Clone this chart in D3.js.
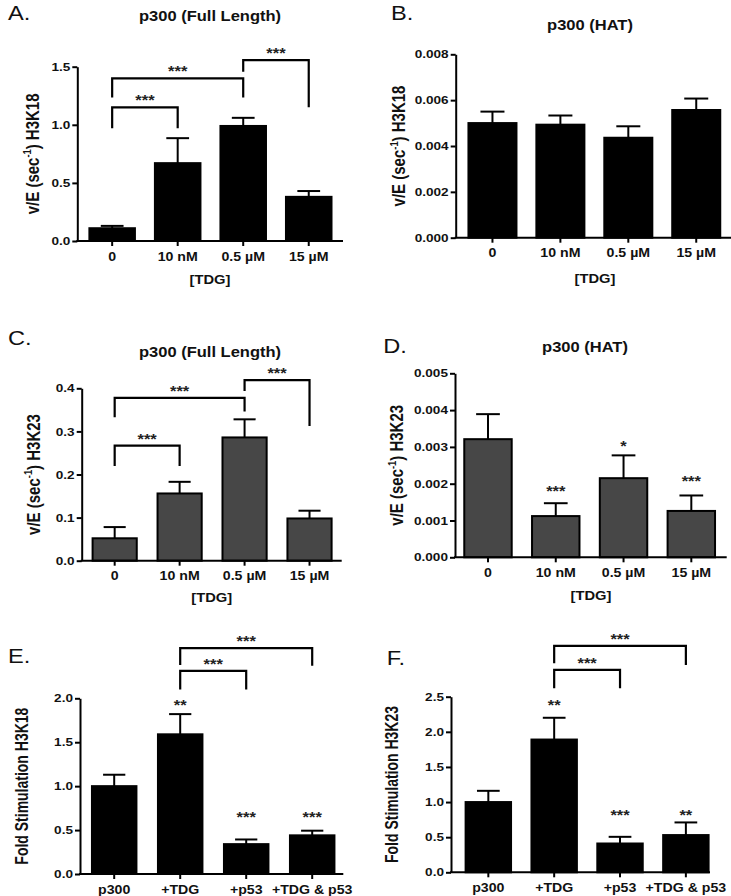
<!DOCTYPE html>
<html><head><meta charset="utf-8">
<script src="https://cdn.jsdelivr.net/npm/d3@7"></script>
<style>body{margin:0;background:#fff} svg{display:block} text{font-family:"Liberation Sans",Arial,Helvetica,sans-serif}</style>
</head><body><svg id="c" width="731" height="896"></svg>
<script>
// ---------- DATA ----------
const tdgCategories = ["0", "10 nM", "0.5 µM", "15 µM"];
const stimCategories = ["p300", "+TDG", "+p53", "+TDG & p53"];

// A: p300 (Full Length) H3K18
const aMeans = [0.11, 0.67, 0.99, 0.38];
const aErrors = [0.02, 0.215, 0.07, 0.05];
const aTicks = [0, 0.5, 1.0, 1.5];
const aBrackets = [[0, 1, 1.15, 0.97, 0.97], [0, 2, 1.40, 1.235, 1.235], [2, 3, 1.556, 1.456, 1.15]];
const aBracketLabels = ["***", "***", "***"];

// B: p300 (HAT) H3K18
const bMeans = [0.0050, 0.00493, 0.00436, 0.00557];
const bErrors = [0.0005, 0.0004, 0.0005, 0.0005];
const bTicks = [0, 0.002, 0.004, 0.006, 0.008];

// C: p300 (Full Length) H3K23
const cMeans = [0.052, 0.156, 0.286, 0.098];
const cErrors = [0.026, 0.027, 0.042, 0.018];
const cTicks = [0, 0.1, 0.2, 0.3, 0.4];
const cBrackets = [[0, 1, 0.267, 0.22, 0.22], [0, 2, 0.378, 0.333, 0.346], [2, 3, 0.419, 0.394, 0.3125]];
const cBracketLabels = ["***", "***", "***"];

// D: p300 (HAT) H3K23
const dMeans = [0.00321, 0.00112, 0.00215, 0.00126];
const dErrors = [0.00068, 0.00035, 0.00062, 0.00042];
const dTicks = [0, 0.001, 0.002, 0.003, 0.004, 0.005];
const dSigLabels = ["", "***", "*", "***"];
const dSigLevels = [null, 0.00188, 0.0031, 0.00215];

// E: Fold stimulation H3K18
const eMeans = [1.0, 1.59, 0.34, 0.44];
const eErrors = [0.13, 0.23, 0.053, 0.053];
const eTicks = [0, 0.5, 1.0, 1.5, 2.0];
const eBrackets = [[1, 2, 2.312, 2.10, 2.10], [1, 3, 2.571, 2.38, 2.37]];
const eBracketLabels = ["***", "***"];
const eSigLabels = ["", "**", "***", "***"];
const eSigLevels = [null, 1.96, 0.69, 0.69];

// F: Fold stimulation H3K23
const fMeans = [1.0, 1.89, 0.41, 0.53];
const fErrors = [0.16, 0.31, 0.095, 0.18];
const fTicks = [0, 0.5, 1.0, 1.5, 2.0, 2.5];
const fBrackets = [[1, 2, 2.882, 2.621, 2.621], [1, 3, 3.224, 2.977, 2.953]];
const fBracketLabels = ["***", "***"];
const fSigLabels = ["", "**", "***", "**"];
const fSigLevels = [null, 2.43, 0.863, 0.863];

// ---------- DRAWING ----------
const svg = d3.select("#c");
const SX = 1.18;          // horizontal stretch of the original figure's lettering
const STAR_FS = 14;

function stars(g, x, cy, label) {
  g.append("text").attr("transform", `translate(${x},${cy + 0.58 * STAR_FS}) scale(${SX},1)`)
    .attr("text-anchor", "middle").attr("font-size", STAR_FS).attr("font-weight", "bold")
    .attr("fill", "#222").text(label);
}

function drawPanel(p) {
  const g = svg.append("g");
  const x = d3.scaleBand().domain(p.categories).range(p.range)
    .paddingInner(p.pad).paddingOuter(p.pad / 2);
  const y = d3.scaleLinear().domain([0, p.max]).range([p.yBottom, p.yTop]);
  const cx = i => x(p.categories[i]) + x.bandwidth() / 2;

  // bars
  g.selectAll("rect.bar").data(p.means).join("rect").attr("class", "bar")
    .attr("x", (d, i) => x(p.categories[i])).attr("width", x.bandwidth())
    .attr("y", d => y(d)).attr("height", d => y(0) - y(d))
    .attr("fill", p.fill).attr("stroke", "#000").attr("stroke-width", 2);

  // error bars
  const eb = g.selectAll("g.eb").data(p.means).join("g").attr("class", "eb");
  eb.append("line").attr("x1", (d, i) => cx(i)).attr("x2", (d, i) => cx(i))
    .attr("y1", d => y(d)).attr("y2", (d, i) => y(d + p.errors[i]))
    .attr("stroke", "#000").attr("stroke-width", 2);
  eb.append("line").attr("x1", (d, i) => cx(i) - x.bandwidth() / 4).attr("x2", (d, i) => cx(i) + x.bandwidth() / 4)
    .attr("y1", (d, i) => y(d + p.errors[i])).attr("y2", (d, i) => y(d + p.errors[i]))
    .attr("stroke", "#000").attr("stroke-width", 2);

  // y axis
  const ya = g.append("g").attr("transform", `translate(${p.x0},0)`)
    .call(d3.axisLeft(y).tickValues(p.ticks).tickFormat(d3.format(p.fmt)).tickSize(5).tickSizeOuter(0).tickPadding(1));
  ya.selectAll("path,line").attr("stroke", "#000").attr("stroke-width", 2);
  ya.selectAll("text").attr("font-size", 11.5).attr("font-weight", "bold").attr("fill", "#111")
    .attr("font-family", '"Liberation Sans",Arial,sans-serif').attr("transform", `scale(${SX},1)`);

  // x axis
  const xa = g.append("g").attr("transform", `translate(0,${p.yBottom})`)
    .call(d3.axisBottom(x).tickSize(5).tickSizeOuter(0).tickPadding(6));
  xa.select(".domain").remove();
  xa.selectAll("line").attr("stroke", "#000").attr("stroke-width", 2);
  xa.selectAll("text").attr("font-size", 12).attr("font-weight", "bold").attr("fill", "#111")
    .attr("font-family", '"Liberation Sans",Arial,sans-serif').attr("transform", `scale(${SX},1)`);
  g.append("line").attr("x1", p.x0 - 1).attr("x2", p.xEnd).attr("y1", p.yBottom).attr("y2", p.yBottom)
    .attr("stroke", "#000").attr("stroke-width", 2);

  // brackets
  (p.brackets || []).forEach((b, k) => {
    const [i, j, top, l, r] = b;
    const x1 = cx(i), x2 = cx(j);
    g.append("path").attr("d", `M${x1},${y(l)}V${y(top)}H${x2}V${y(r)}`)
      .attr("fill", "none").attr("stroke", "#000").attr("stroke-width", 2.2);
    stars(g, (x1 + x2) / 2, y(top) - 10, p.bracketLabels[k]);
  });
  // significance over bars
  (p.sigLabels || []).forEach((s, i) => {
    if (s) stars(g, cx(i), y(p.sigLevels[i]), s);
  });

  // panel letter
  g.append("text").attr("transform", `translate(${p.letterX},${p.letterY}) scale(${SX},1)`)
    .attr("font-size", 20).attr("fill", "#111").text(p.letter);
  // title
  if (p.title) g.append("text").attr("transform", `translate(${p.titleX},${p.titleY}) scale(${SX},1)`)
    .attr("text-anchor", "middle").attr("font-size", 14).attr("font-weight", "bold").attr("fill", "#111").text(p.title);
  // x label
  if (p.xLabel) g.append("text").attr("transform", `translate(${p.xLabelX},${p.xLabelY}) scale(${SX},1)`)
    .attr("text-anchor", "middle").attr("font-size", 12.5).attr("font-weight", "bold").attr("fill", "#111").text(p.xLabel);
  // y label
  const yl = g.append("text")
    .attr("transform", `translate(${p.yLabelX},${(p.yTop + p.yBottom) / 2}) scale(1.25,1) rotate(-90)`)
    .attr("text-anchor", "middle").attr("font-size", p.yLabelSize).attr("font-weight", "bold").attr("fill", "#111");
  if (p.yLabelSup) {
    yl.append("tspan").text("v/E (sec");
    yl.append("tspan").attr("font-size", p.yLabelSize * 0.62).attr("dy", -6).text("-1");
    yl.append("tspan").attr("dy", 6).text(") " + p.yLabelTail);
  } else {
    yl.text(p.yLabelTail);
  }
}

drawPanel({categories: tdgCategories, means: aMeans, errors: aErrors, ticks: aTicks, fmt: ".1f",
  brackets: aBrackets, bracketLabels: aBracketLabels,
  x0: 77.3, xEnd: 343, yBottom: 241, yTop: 66.7, max: 1.5, range: [79.4, 341.5], pad: 0.305, fill: "#000",
  letter: "A.", letterX: 8, letterY: 20, title: "p300 (Full Length)", titleX: 210, titleY: 20.7,
  xLabel: "[TDG]", xLabelX: 210, xLabelY: 283.5, yLabelX: 38.5, yLabelSize: 15, yLabelSup: true, yLabelTail: "H3K18"});

drawPanel({categories: tdgCategories, means: bMeans, errors: bErrors, ticks: bTicks, fmt: ".3f",
  x0: 455.7, xEnd: 731, yBottom: 237.7, yTop: 54.3, max: 0.008, range: [458.5, 730.2], pad: 0.293, fill: "#000",
  letter: "B.", letterX: 391, letterY: 20, title: "p300 (HAT)", titleX: 590, titleY: 30,
  xLabel: "[TDG]", xLabelX: 595, xLabelY: 283, yLabelX: 405, yLabelSize: 15, yLabelSup: true, yLabelTail: "H3K18"});

drawPanel({categories: tdgCategories, means: cMeans, errors: cErrors, ticks: cTicks, fmt: ".1f",
  brackets: cBrackets, bracketLabels: cBracketLabels,
  x0: 81.7, xEnd: 341.7, yBottom: 560.7, yTop: 388.3, max: 0.4, range: [82.2, 342], pad: 0.32, fill: "#474747",
  letter: "C.", letterX: 8, letterY: 345, title: "p300 (Full Length)", titleX: 210, titleY: 356.7,
  xLabel: "[TDG]", xLabelX: 211.7, xLabelY: 601.5, yLabelX: 39.5, yLabelSize: 15, yLabelSup: true, yLabelTail: "H3K23"});

drawPanel({categories: tdgCategories, means: dMeans, errors: dErrors, ticks: dTicks, fmt: ".3f",
  sigLabels: dSigLabels, sigLevels: dSigLevels,
  x0: 455, xEnd: 726.7, yBottom: 557.3, yTop: 373.3, max: 0.005, range: [454.1, 725.2], pad: 0.30, fill: "#474747",
  letter: "D.", letterX: 383.3, letterY: 353, title: "p300 (HAT)", titleX: 585, titleY: 352,
  xLabel: "[TDG]", xLabelX: 591, xLabelY: 600, yLabelX: 403, yLabelSize: 15, yLabelSup: true, yLabelTail: "H3K23"});

drawPanel({categories: stimCategories, means: eMeans, errors: eErrors, ticks: eTicks, fmt: ".1f",
  brackets: eBrackets, bracketLabels: eBracketLabels, sigLabels: eSigLabels, sigLevels: eSigLevels,
  x0: 80, xEnd: 343.3, yBottom: 874, yTop: 698.3, max: 2.0, range: [81.2, 345.2], pad: 0.326, fill: "#000",
  letter: "E.", letterX: 8, letterY: 663, yLabelX: 28, yLabelSize: 14, yLabelSup: false, yLabelTail: "Fold Stimulation H3K18"});

drawPanel({categories: stimCategories, means: fMeans, errors: fErrors, ticks: fTicks, fmt: ".1f",
  brackets: fBrackets, bracketLabels: fBracketLabels, sigLabels: fSigLabels, sigLevels: fSigLevels,
  x0: 451, xEnd: 710, yBottom: 872.3, yTop: 696.7, max: 2.5, range: [455.4, 718.8], pad: 0.31, fill: "#000",
  letter: "F.", letterX: 386.7, letterY: 665, yLabelX: 398, yLabelSize: 14, yLabelSup: false, yLabelTail: "Fold Stimulation H3K23"});
</script></body></html>
